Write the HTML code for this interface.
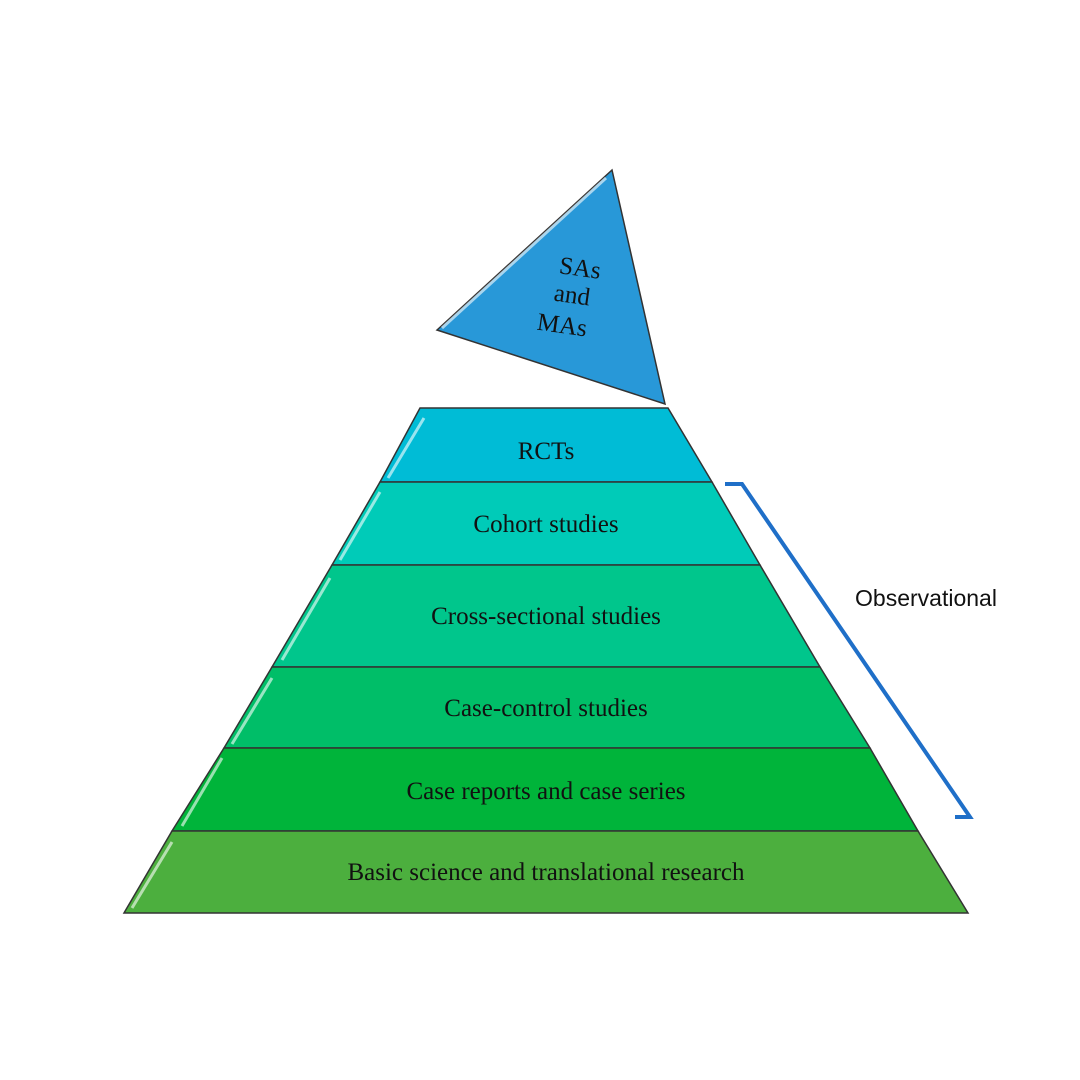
<!DOCTYPE html>
<html><head><style>body{margin:0;background:#fff}svg{display:block}</style></head><body>
<svg width="1080" height="1080" viewBox="0 0 1080 1080" xmlns="http://www.w3.org/2000/svg">
<g stroke="#333" stroke-width="1.5">
<polygon points="437,330 612,170 665,404" fill="#2898d8"/>
<polygon points="420,408 668,408 712,482 380,482" fill="#00bcd6"/>
<polygon points="380,482 712,482 760,565 332,565" fill="#00cbb8"/>
<polygon points="332,565 760,565 820,667 272,667" fill="#00c68c"/>
<polygon points="272,667 820,667 870,748 224,748" fill="#00be68"/>
<polygon points="224,748 870,748 918,831 172,831" fill="#00b43a"/>
<polygon points="172,831 918,831 968,913 124,913" fill="#4caf3e"/>
</g>
<g stroke="#ffffff" stroke-opacity="0.6" stroke-width="3" fill="none">
<line x1="442" y1="328" x2="606" y2="178"/>
<line x1="424" y1="418" x2="388" y2="478"/>
<line x1="380" y1="492" x2="340" y2="560"/>
<line x1="330" y1="578" x2="282" y2="660"/>
<line x1="272" y1="678" x2="232" y2="744"/>
<line x1="222" y1="758" x2="182" y2="826"/>
<line x1="172" y1="842" x2="132" y2="908"/>
</g>
<polyline points="725,484 742,484 970,817 955,817" fill="none" stroke="#1f6fc8" stroke-width="4"/>
<g font-family="Liberation Serif, serif" font-size="25" fill="#111" text-anchor="middle">
<text x="579" y="276" font-size="25" transform="rotate(8 579 276)">SAs</text>
<text x="571" y="303" font-size="25" transform="rotate(8 571 303)">and</text>
<text x="561" y="333" font-size="25" transform="rotate(8 561 333)">MAs</text>
<text x="546" y="459">RCTs</text>
<text x="546" y="532">Cohort studies</text>
<text x="546" y="624">Cross-sectional studies</text>
<text x="546" y="716">Case-control studies</text>
<text x="546" y="799">Case reports and case series</text>
<text x="546" y="880">Basic science and translational research</text>
</g>
<text x="926" y="606" font-family="Liberation Sans, sans-serif" font-size="23" fill="#111" text-anchor="middle">Observational</text>
</svg>
</body></html>
